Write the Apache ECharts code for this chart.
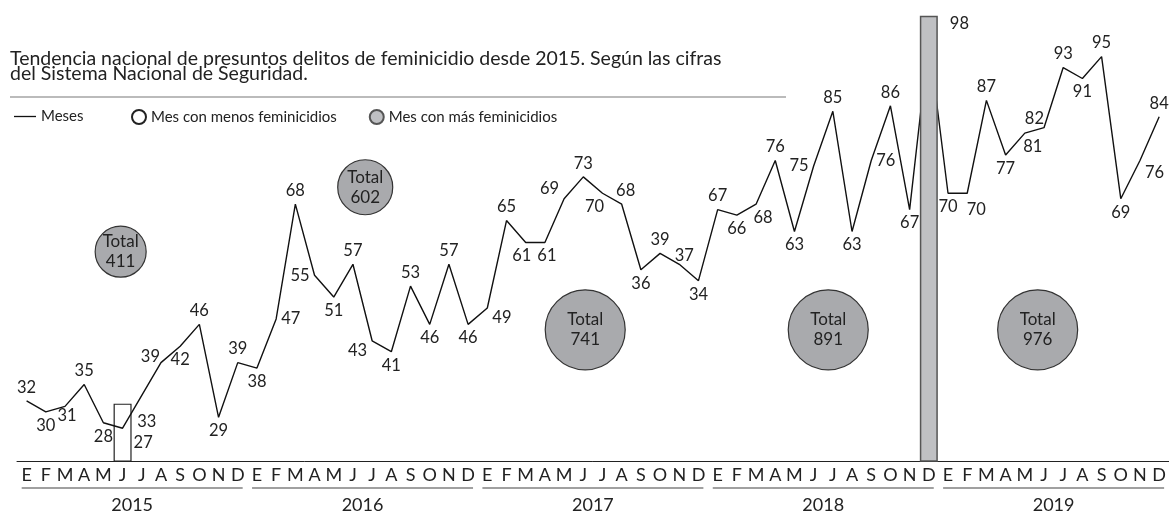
<!DOCTYPE html>
<html>
<head>
<meta charset="utf-8">
<script src="https://cdn.jsdelivr.net/npm/echarts@6/dist/echarts.min.js"></script>
<style>
  html, body { margin: 0; padding: 0; background: #fff; }
  #chart { width: 1169px; height: 514px; }
</style>
</head>
<body>
<div id="chart"></div>
<script>
// Datos: feminicidios mensuales 2015-2019
const meses = ['E', 'F', 'M', 'A', 'M', 'J', 'J', 'A', 'S', 'O', 'N', 'D']
const anios = ['2015', '2016', '2017', '2018', '2019']
// valores tal como están trazados en la línea
const casos = [
  32, 30, 31, 35, 28, 27, 33, 39, 42, 46, 29, 39,
  38, 47, 68, 55, 51, 57, 43, 41, 53, 46, 57, 46,
  49, 65, 61, 61, 69, 73, 70, 68, 56, 59, 57, 54,
  67, 66, 68, 76, 63, 75, 85, 63, 76, 86, 67, 98,
  70, 70, 87, 77, 81, 82, 93, 91, 95, 69, 76, 84
]
// cifras impresas junto a cada punto
const etiquetas = [
  32, 30, 31, 35, 28, 27, 33, 39, 42, 46, 29, 39,
  38, 47, 68, 55, 51, 57, 43, 41, 53, 46, 57, 46,
  49, 65, 61, 61, 69, 73, 70, 68, 36, 39, 37, 34,
  67, 66, 68, 76, 63, 75, 85, 63, 76, 86, 67, 98,
  70, 70, 87, 77, 81, 82, 93, 91, 95, 69, 76, 84
]
const totales = [411, 602, 741, 891, 976]
// mes con menos (jun 2015) y con más (dic 2018) feminicidios
const mesMenos = 5
const mesMas = 47
const barraMenos = 31.5
const barraMas = 102.5

// colocación de las cifras (t arriba, b abajo, l izquierda, r derecha)
const lado = [
  't', 'b', 'b', 't', 'b', 'r', 'b', 'l', 'b', 't', 'b', 't',
  'b', 'r', 't', 'l', 'b', 't', 'l', 'b', 't', 'b', 't', 'b',
  'r', 't', 'b', 'b', 'l', 't', 'b', 't', 'b', 't', 't', 'b',
  't', 'b', 'b', 't', 'b', 'l', 't', 'b', 'r', 't', 'b', 'r',
  'b', 'b', 't', 'b', 'b', 'l', 't', 'b', 't', 'b', 'r', 't'
]
const ajuste = {
  2: [2, -4], 5: [6, 14], 6: [5, 13], 7: [4, -6], 18: [0, 10], 24: [0, 10],
  26: [-4, 0], 27: [2, 0], 28: [0, -10], 30: [-8, 0], 31: [4, 0], 34: [5, 5],
  38: [7, 0], 47: [16, -17], 49: [9, 3], 52: [8, 0], 53: [5, -9], 58: [0, 12]
}
// burbujas de totales: [mes (índice), altura] y diámetro
const burbujaPos = [[4.9, 59.3], [17.64, 71.1], [29.1, 45.0], [41.76, 45.0], [52.67, 45.0]]
const burbujaTam = [51, 55, 80, 80, 80]

const posNombre = { t: 'top', b: 'bottom', l: 'left', r: 'right' }
const FUENTE = 'Lato, "Open Sans", sans-serif'
const categorias = []
anios.forEach(a => meses.forEach((m, i) => categorias.push(m + '|' + a + '|' + i)))

const chart = echarts.init(document.getElementById('chart'))

const leyendaTexto = { fontFamily: FUENTE, fontSize: 15, color: '#222' }

const option = {
  animation: false,
  textStyle: { fontFamily: FUENTE },
  title: {
    text: 'Tendencia nacional de presuntos delitos de feminicidio desde 2015. Según las cifras\ndel Sistema Nacional de Seguridad.',
    left: 10,
    top: 51,
    padding: 0,
    textStyle: { fontFamily: FUENTE, fontSize: 19.5, fontWeight: 'normal', lineHeight: 15, color: '#222' }
  },
  legend: [
    {
      left: 14,
      top: 109,
      padding: 0,
      itemWidth: 22,
      itemHeight: 14,
      textStyle: leyendaTexto,
      data: [{ name: 'Meses', icon: 'path://M0,0H22V1.3H0Z', itemStyle: { borderWidth: 0 } }]
    },
    {
      left: 131,
      top: 109,
      padding: 0,
      itemWidth: 14,
      itemHeight: 14,
      itemGap: 32,
      textStyle: leyendaTexto,
      data: [
        { name: 'Mes con menos feminicidios', icon: 'circle' },
        { name: 'Mes con más feminicidios', icon: 'circle' }
      ]
    }
  ],
  graphic: [{
    type: 'line',
    shape: { x1: 10, y1: 97, x2: 786, y2: 97 },
    style: { stroke: '#a5a5a5', lineWidth: 1.5 }
  }],
  grid: { left: 17, width: 1155, top: 2, bottom: 51 },
  xAxis: [
    {
      type: 'category',
      data: categorias,
      position: 'bottom',
      axisLine: { lineStyle: { color: '#222', width: 1 } },
      axisTick: { inside: true, length: 7, interval: 0, lineStyle: { color: '#222' } },
      axisLabel: {
        interval: 0,
        margin: 5,
        fontSize: 18,
        lineHeight: 18,
        color: '#222',
        fontFamily: FUENTE,
        formatter: v => v.split('|')[0]
      }
    },
    {
      type: 'category',
      data: anios,
      position: 'bottom',
      axisLine: { show: false },
      axisTick: { show: false },
      axisLabel: {
        margin: 26,
        interval: 0,
        formatter: v => '{ln|}\n{yr|' + v + '}',
        rich: {
          ln: { width: 221, height: 2, lineHeight: 2, fontSize: 1, backgroundColor: '#a0a0a0' },
          yr: { fontSize: 18, lineHeight: 32, color: '#222', fontFamily: FUENTE }
        }
      }
    },
    { type: 'value', min: -0.5, max: 59.5, show: false }
  ],
  yAxis: { type: 'value', min: 21, max: 105, show: false },
  series: [
    {
      name: 'Mes con menos feminicidios',
      type: 'bar',
      xAxisIndex: 0,
      z: 1,
      barWidth: 18,
      barGap: '-100%',
      itemStyle: { color: '#ffffff', borderColor: '#222', borderWidth: 1.2 },
      data: casos.map((v, i) => (i === mesMenos ? barraMenos : null))
    },
    {
      name: 'Meses',
      type: 'line',
      xAxisIndex: 0,
      z: 2,
      showSymbol: true,
      symbol: 'circle',
      symbolSize: 0,
      color: '#111',
      lineStyle: { color: '#111', width: 1.4 },
      label: {
        show: true,
        fontSize: 16.5,
        color: '#222',
        fontFamily: FUENTE,
        formatter: p => etiquetas[p.dataIndex]
      },
      data: casos.map((v, i) => ({
        value: v,
        label: { position: posNombre[lado[i]], offset: ajuste[i] || [0, 0] }
      }))
    },
    {
      name: 'Mes con más feminicidios',
      type: 'bar',
      xAxisIndex: 0,
      z: 3,
      barWidth: 18,
      barGap: '-100%',
      itemStyle: { color: '#bfc0c3', borderColor: '#555', borderWidth: 1.5 },
      data: casos.map((v, i) => (i === mesMas ? barraMas : null))
    },
    {
      name: 'Totales',
      type: 'scatter',
      xAxisIndex: 2,
      z: 4,
      symbol: 'circle',
      itemStyle: { color: '#a9aaad', borderColor: '#333', borderWidth: 1.2, opacity: 1 },
      label: {
        show: true,
        position: 'inside',
        fontSize: 17,
        lineHeight: 20,
        color: '#222',
        fontFamily: FUENTE,
        formatter: p => 'Total\n' + totales[p.dataIndex]
      },
      data: totales.map((t, i) => ({
        value: [burbujaPos[i][0], burbujaPos[i][1], t],
        symbolSize: burbujaTam[i]
      }))
    }
  ]
}

chart.setOption(option)
</script>
</body>
</html>
